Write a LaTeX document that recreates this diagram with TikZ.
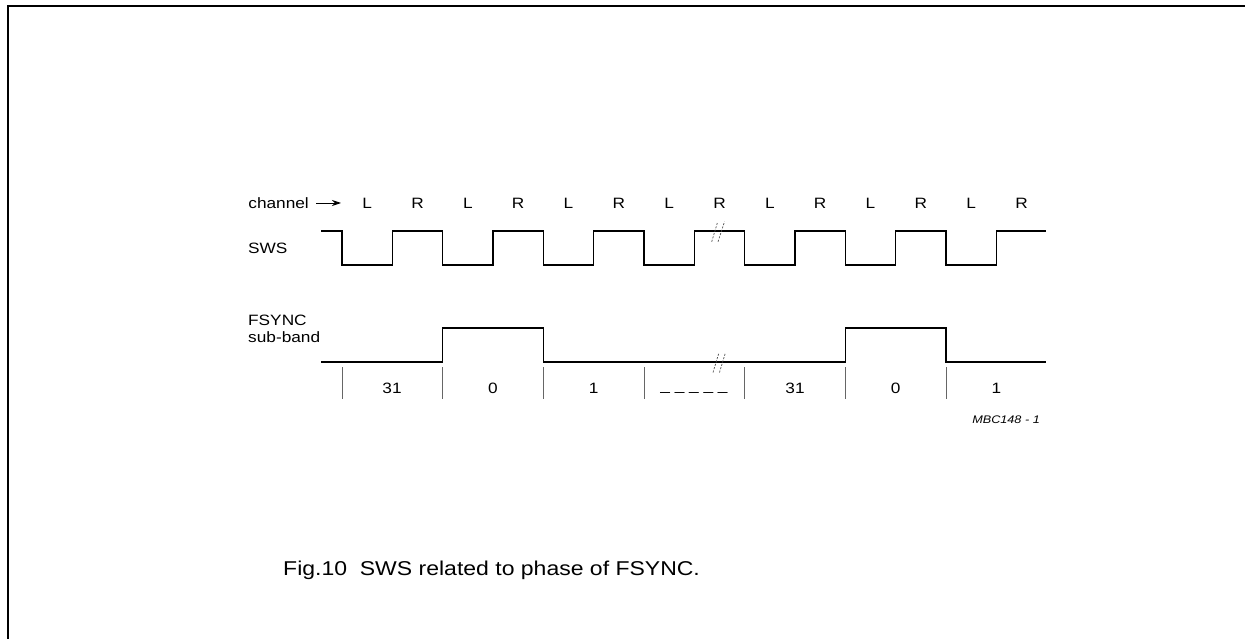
\documentclass[tikz,border=0pt]{standalone}
\usepackage{fontspec}
\setmainfont{Liberation Sans}[FakeStretch=1.15]
\usetikzlibrary{arrows.meta}
\begin{document}
\begin{tikzpicture}[x=1pt,y=-1pt,
  lbl/.style={inner sep=0pt,font=\fontsize{15}{17}\selectfont},
  wave/.style={line width=1.5pt,line join=miter},
  tick/.style={line width=0.8pt,black!60},
  brk/.style={line width=0.7pt,black!70,dash pattern=on 2pt off 1.5pt}]
\useasboundingbox (0,0) rectangle (1245,639);
\draw[line width=2pt] (8,639) -- (8,6) -- (1245,6);
% channel row
\node[lbl,anchor=east] (chan) at (309,203) {channel};
\coordinate (arrS) at (316,203);
\coordinate (arrE) at (341,203);
\draw[-{Stealth[length=9pt,width=6pt]},line width=0.9pt] (arrS) -- (arrE);
\foreach \i/\t in {0/L,1/R,2/L,3/R,4/L,5/R,6/L,7/R,8/L,9/R,10/L,11/R,12/L,13/R}{
  \node[lbl] (ch\i) at ({367.2+50.33*\i},203) {\t};
}
% SWS
\node[lbl,anchor=west] (sws) at (248,248) {SWS};
\draw[wave] (321,231) -- (342,231) -- (342,265) -- (392.3,265) -- (392.3,231) -- (442.7,231) -- (442.7,265) -- (493,265) -- (493,231) -- (543.3,231) -- (543.3,265) -- (593.7,265) -- (593.7,231) -- (644,231) -- (644,265) -- (694.3,265) -- (694.3,231) -- (744.7,231) -- (744.7,265) -- (795,265) -- (795,231) -- (845.3,231) -- (845.3,265) -- (895.7,265) -- (895.7,231) -- (946,231) -- (946,265) -- (996.3,265) -- (996.3,231) -- (1046,231);
\draw[brk] (711.7,241.7) -- (717.7,221.7);
\draw[brk] (718,241.7) -- (724.5,221.7);
% FSYNC
\node[lbl,anchor=west] (fs) at (248,320) {FSYNC};
\node[lbl,anchor=west] (sb) at (248,337) {sub-band};
\draw[wave] (321,362) -- (442.7,362) -- (442.7,328) -- (543.3,328) -- (543.3,362) -- (845.3,362) -- (845.3,328) -- (946,328) -- (946,362) -- (1046,362);
\draw[brk] (713,372.5) -- (719,352.5);
\draw[brk] (719.5,372.5) -- (725.5,352.5);
% ticks
\foreach \x in {342,442.7,543.3,644,744.7,845.3,946}{
  \draw[tick] (\x,367) -- (\x,399);
}
\node[lbl] (s1) at (392,388) {31};
\node[lbl] (s2) at (493,388) {0};
\node[lbl] (s3) at (593.7,388) {1};
\node[lbl] (s4) at (694,392) {\_ \_ \_ \_ \_};
\node[lbl] (s5) at (795,388) {31};
\node[lbl] (s6) at (895.7,388) {0};
\node[lbl] (s7) at (996.3,388) {1};
\node[inner sep=0pt,anchor=east,font=\fontsize{11}{13}\selectfont\itshape] (code) at (1040,420) {MBC148 - 1};
\node[inner sep=0pt,anchor=west,font=\fontsize{20}{23}\selectfont] (cap) at (283,570) {Fig.10\ \ SWS related to phase of FSYNC.};
\end{tikzpicture}
\end{document}
